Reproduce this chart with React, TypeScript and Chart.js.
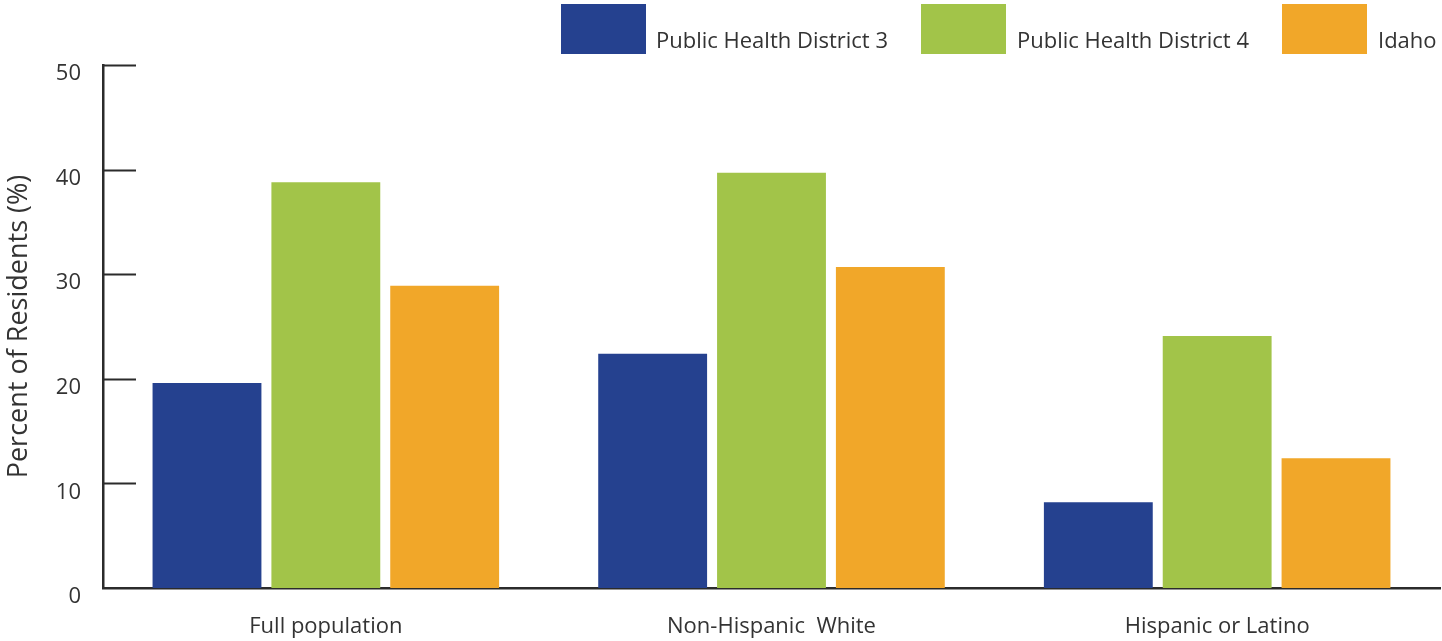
import React, { useEffect, useRef } from "react";
import { Chart, registerables } from "chart.js";

Chart.register(...registerables);

const categories = ["Full population", "Non-Hispanic  White", "Hispanic or Latino"];
const seriesNames = ["Public Health District 3", "Public Health District 4", "Idaho"];
const district3 = [19.6, 22.4, 8.2];
const district4 = [38.8, 39.7, 24.1];
const idaho = [28.9, 30.7, 12.4];
const colors = ["#25418F", "#A2C449", "#F1A729"];
const yTicks = [0, 10, 20, 30, 40, 50];

const FONT = "'Open Sans', 'DejaVu Sans', sans-serif";
const TEXT = "#333333";
const AXIS = "#2b2b2b";

const innerTicks = {
  id: "innerTicks",
  afterDraw(chart: any) {
    const { ctx, chartArea, scales } = chart;
    const y = scales.y;
    ctx.save();
    ctx.strokeStyle = AXIS;
    ctx.lineWidth = 2;
    yTicks.forEach((v) => {
      if (v === 0) return;
      const py = Math.round(y.getPixelForValue(v)) + 0.5;
      ctx.beginPath();
      ctx.moveTo(chartArea.left, py);
      ctx.lineTo(chartArea.left + 33, py);
      ctx.stroke();
    });
    ctx.restore();
  },
};

export default function App() {
  const ref = useRef<HTMLCanvasElement>(null);
  useEffect(() => {
    if (!ref.current) return;
    const data = [district3, district4, idaho];
    const chart = new Chart(ref.current, {
      type: "bar",
      data: {
        labels: categories,
        datasets: seriesNames.map((name, i) => ({
          label: name,
          data: data[i],
          backgroundColor: colors[i],
          borderWidth: 0,
          categoryPercentage: 0.8,
          barPercentage: 0.916,
        })),
      },
      options: {
        responsive: false,
        animation: false,
        layout: { padding: { top: 65, right: 2, left: 0, bottom: 0 } },
        plugins: { legend: { display: false }, tooltip: { enabled: false } },
        scales: {
          x: {
            grid: { display: false },
            border: { display: true, color: AXIS, width: 2.5 },
            ticks: { color: TEXT, font: { family: FONT, size: 22 }, padding: 18 },
            afterFit: (s: any) => {
              s.height = 53;
            },
          },
          y: {
            min: 0,
            max: 50,
            afterBuildTicks: (s: any) => {
              s.ticks = yTicks.map((v) => ({ value: v }));
            },
            grid: { display: false, drawTicks: false },
            border: { display: true, color: AXIS, width: 2.5 },
            ticks: {
              color: TEXT,
              font: { family: FONT, size: 22 },
              padding: 22,
              labelOffset: 9,
            },
            title: {
              display: true,
              text: "Percent of Residents (%)",
              color: TEXT,
              font: { family: FONT, size: 27 },
              padding: { top: 3, bottom: 0 },
            },
            afterFit: (s: any) => {
              s.width = 103;
            },
          },
        },
      },
      plugins: [innerTicks],
    });
    return () => chart.destroy();
  }, []);

  const legendPos = [
    { box: 561, text: 656 },
    { box: 921, text: 1017 },
    { box: 1282, text: 1378 },
  ];

  return (
    <div style={{ position: "absolute", left: 0, top: 0, width: 1442, height: 641, background: "#fff" }}>
      <canvas ref={ref} width={1442} height={641} style={{ position: "absolute", left: 0, top: 0 }} />
      {seriesNames.map((name, i) => (
        <React.Fragment key={name}>
          <div
            style={{
              position: "absolute",
              left: legendPos[i].box,
              top: 4,
              width: 85,
              height: 50,
              background: colors[i],
            }}
          />
          <div
            style={{
              position: "absolute",
              left: legendPos[i].text,
              top: 28,
              fontFamily: FONT,
              fontSize: 22,
              lineHeight: "22px",
              color: TEXT,
              whiteSpace: "nowrap",
            }}
          >
            {name}
          </div>
        </React.Fragment>
      ))}
    </div>
  );
}
